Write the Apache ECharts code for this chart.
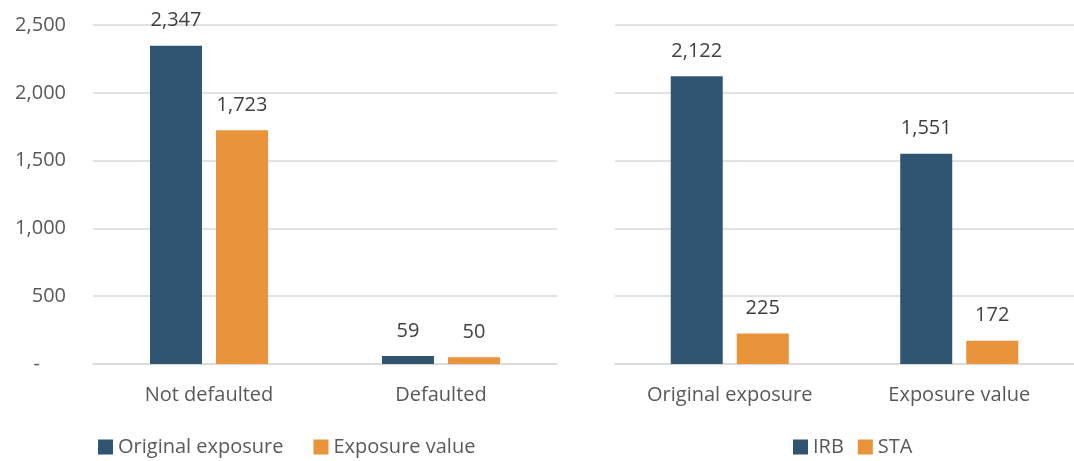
<!DOCTYPE html>
<html>
<head>
<meta charset="utf-8">
<script src="https://cdn.jsdelivr.net/npm/echarts@6/dist/echarts.min.js"></script>
<style>
  html, body { margin: 0; padding: 0; background: #fff; }
  #chart { width: 1074px; height: 461px; }
</style>
</head>
<body>
<div id="chart"></div>
<script>
// left panel
const leftCategories = ['Not defaulted', 'Defaulted']
const originalExposure = [2347, 59]
const exposureValue = [1723, 50]
// right panel
const rightCategories = ['Original exposure', 'Exposure value']
const irb = [2122, 1551]
const sta = [225, 172]
const yTicks = [0, 500, 1000, 1500, 2000, 2500]

const BLUE = '#2f5572'
const ORANGE = '#e9943a'
const FONT = 'Open Sans'
const FS = 20

const fmt = (v) => (v === 0 ? '-' : Number(v).toLocaleString('en-US'))

const chart = echarts.init(document.getElementById('chart'))

const barLabel = {
  show: true,
  position: 'top',
  distance: 15,
  color: '#404040',
  fontSize: FS,
  fontFamily: FONT,
  formatter: (p) => fmt(p.value)
}

const xAxisBase = {
  type: 'category',
  axisTick: { show: false },
  axisLine: { show: true, lineStyle: { color: '#d9d9d9', width: 1.5 } },
  axisLabel: { color: '#595959', fontSize: FS, fontFamily: FONT, margin: 21 }
}
const yAxisBase = {
  type: 'value',
  min: yTicks[0],
  max: yTicks[yTicks.length - 1],
  interval: 500,
  splitLine: { lineStyle: { color: '#d9d9d9', width: 1.5 } },
  axisLine: { show: false },
  axisTick: { show: false }
}

const legendText = { color: '#595959', fontSize: FS, fontFamily: FONT }

const option = {
  animation: false,
  textStyle: { fontFamily: FONT },
  grid: [
    { left: 93, top: 25, width: 464, height: 339 },
    { left: 615, top: 25, width: 468, height: 339 }
  ],
  legend: [
    {
      data: ['Original exposure', 'Exposure value'],
      left: 93, bottom: -1,
      itemWidth: 15, itemHeight: 15, itemGap: 30,
      icon: 'rect',
      textStyle: legendText
    },
    {
      data: ['IRB', 'STA'],
      left: 788, bottom: -1,
      itemWidth: 15, itemHeight: 15, itemGap: 14,
      icon: 'rect',
      textStyle: legendText
    }
  ],
  xAxis: [
    Object.assign({}, xAxisBase, { gridIndex: 0, data: leftCategories }),
    Object.assign({}, xAxisBase, { gridIndex: 1, data: rightCategories })
  ],
  yAxis: [
    Object.assign({}, yAxisBase, {
      gridIndex: 0,
      axisLabel: {
        color: '#595959', fontSize: FS, fontFamily: FONT, margin: 27,
        formatter: (v) => (v === 0 ? '-     ' : fmt(v))
      }
    }),
    Object.assign({}, yAxisBase, { gridIndex: 1, axisLabel: { show: false } })
  ],
  series: [
    { name: 'Original exposure', type: 'bar', xAxisIndex: 0, yAxisIndex: 0, data: originalExposure,
      itemStyle: { color: BLUE }, barWidth: 52, barGap: '27%', label: barLabel },
    { name: 'Exposure value', type: 'bar', xAxisIndex: 0, yAxisIndex: 0, data: exposureValue,
      itemStyle: { color: ORANGE }, barWidth: 52, barGap: '27%', label: barLabel },
    { name: 'IRB', type: 'bar', xAxisIndex: 1, yAxisIndex: 1, data: irb,
      itemStyle: { color: BLUE }, barWidth: 52, barGap: '27%', label: barLabel },
    { name: 'STA', type: 'bar', xAxisIndex: 1, yAxisIndex: 1, data: sta,
      itemStyle: { color: ORANGE }, barWidth: 52, barGap: '27%', label: barLabel }
  ]
}

chart.setOption(option)
</script>
</body>
</html>
